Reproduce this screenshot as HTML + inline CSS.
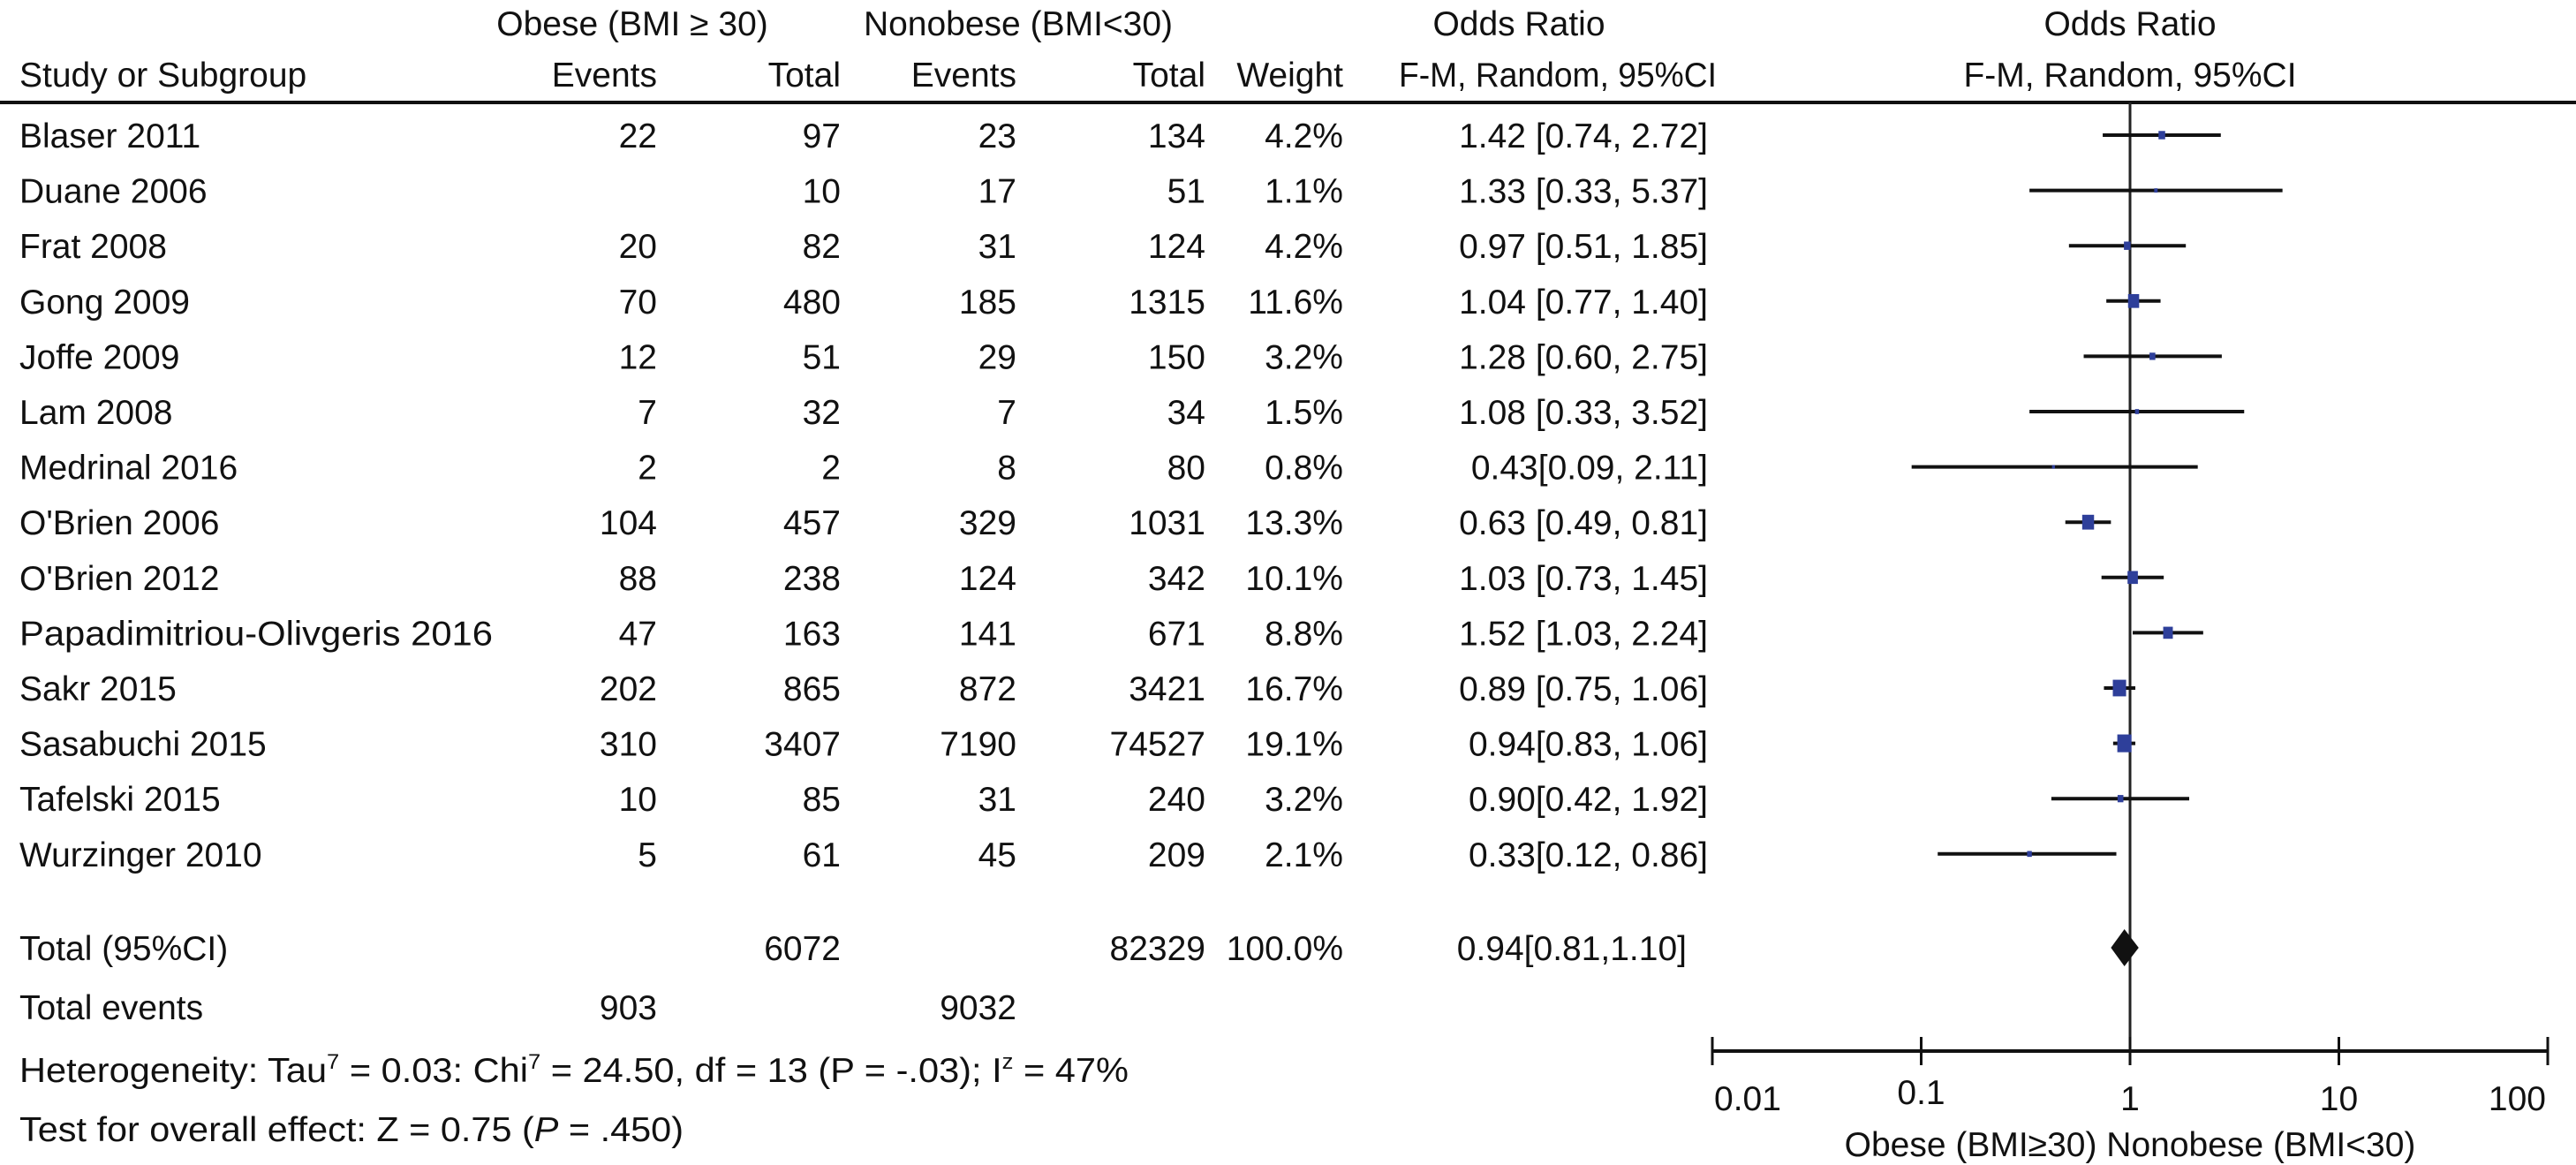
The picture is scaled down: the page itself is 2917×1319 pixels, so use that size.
<!DOCTYPE html>
<html><head><meta charset="utf-8"><style>
html,body{margin:0;padding:0;background:#fff;}
svg{display:block;font-family:"Liberation Sans",sans-serif;}
text{font-size:39px;fill:#111;}
</style></head><body>
<svg id="chart" width="2917" height="1319" viewBox="0 0 2917 1319">
<g>
<text x="716" y="40" text-anchor="middle">Obese (BMI ≥ 30)</text>
<text x="1153" y="40" text-anchor="middle">Nonobese (BMI&lt;30)</text>
<text x="1720" y="40" text-anchor="middle">Odds Ratio</text>
<text x="2412" y="40" text-anchor="middle">Odds Ratio</text>
<text x="22" y="98">Study or Subgroup</text>
<text x="744" y="98" text-anchor="end">Events</text>
<text x="952" y="98" text-anchor="end">Total</text>
<text x="1151" y="98" text-anchor="end">Events</text>
<text x="1365" y="98" text-anchor="end">Total</text>
<text x="1521" y="98" text-anchor="end">Weight</text>
<text x="1944" y="98" text-anchor="end" textLength="360" lengthAdjust="spacingAndGlyphs">F-M, Random, 95%CI</text>
<text x="2412" y="98" text-anchor="middle">F-M, Random, 95%CI</text>
<line x1="0" y1="116" x2="2917" y2="116" stroke="#111" stroke-width="4"/>
</g>
<g id="rows"></g>
<g id="plot"></g>
<g>
<text x="22" y="1087">Total (95%CI)</text>
<text x="952" y="1087" text-anchor="end">6072</text>
<text x="1365" y="1087" text-anchor="end">82329</text>
<text x="1521" y="1087" text-anchor="end">100.0%</text>
<text x="1910" y="1087" text-anchor="end">0.94[0.81,1.10]</text>
<text x="22" y="1154">Total events</text>
<text x="744" y="1154" text-anchor="end">903</text>
<text x="1151" y="1154" text-anchor="end">9032</text>
<text x="22" y="1225" textLength="1256" lengthAdjust="spacingAndGlyphs">Heterogeneity: Tau<tspan dy="-15" font-size="24">7</tspan><tspan dy="15"> = 0.03: Chi</tspan><tspan dy="-15" font-size="24">7</tspan><tspan dy="15"> = 24.50, df = 13 (P = -.03); I</tspan><tspan dy="-15" font-size="24">z</tspan><tspan dy="15"> = 47%</tspan></text>
<text x="22" y="1292" textLength="752" lengthAdjust="spacingAndGlyphs">Test for overall effect: Z = 0.75 (<tspan font-style="italic">P</tspan> = .450)</text>
</g>
</svg>
<script>
const studies=["Blaser 2011","Duane 2006","Frat 2008","Gong 2009","Joffe 2009","Lam 2008","Medrinal 2016","O'Brien 2006","O'Brien 2012","Papadimitriou-Olivgeris 2016","Sakr 2015","Sasabuchi 2015","Tafelski 2015","Wurzinger 2010"];
const obeseEvents=["22","","20","70","12","7","2","104","88","47","202","310","10","5"];
const obeseTotal=["97","10","82","480","51","32","2","457","238","163","865","3407","85","61"];
const nonEvents=["23","17","31","185","29","7","8","329","124","141","872","7190","31","45"];
const nonTotal=["134","51","124","1315","150","34","80","1031","342","671","3421","74527","240","209"];
const weights=[4.2,1.1,4.2,11.6,3.2,1.5,0.8,13.3,10.1,8.8,16.7,19.1,3.2,2.1];
const orVal=[1.42,1.33,0.97,1.04,1.28,1.08,0.43,0.63,1.03,1.52,0.89,0.94,0.90,0.33];
const ciLow=[0.74,0.33,0.51,0.77,0.60,0.33,0.09,0.49,0.73,1.03,0.75,0.83,0.42,0.12];
const ciHigh=[2.72,5.37,1.85,1.40,2.75,3.52,2.11,0.81,1.45,2.24,1.06,1.06,1.92,0.86];
const orLabels=["1.42 [0.74, 2.72]","1.33 [0.33, 5.37]","0.97 [0.51, 1.85]","1.04 [0.77, 1.40]","1.28 [0.60, 2.75]","1.08 [0.33, 3.52]","0.43[0.09, 2.11]","0.63 [0.49, 0.81]","1.03 [0.73, 1.45]","1.52 [1.03, 2.24]","0.89 [0.75, 1.06]","0.94[0.83, 1.06]","0.90[0.42, 1.92]","0.33[0.12, 0.86]"];
const totalOR=[0.94,0.81,1.10];
const ticks=[0.01,0.1,1,10,100];
const tickLabels=["0.01","0.1","1","10","100"];

const NS="http://www.w3.org/2000/svg";
const AXIS_Y=1190;
const xScale=v=>2412+236.5*Math.log10(v);
const yRow=i=>153+62.6*i;
function mk(tag,parent,attrs,txt){const e=document.createElementNS(NS,tag);for(const k in attrs)e.setAttribute(k,attrs[k]);if(txt!==undefined)e.textContent=txt;parent.appendChild(e);return e;}
const rows=document.getElementById('rows'),plot=document.getElementById('plot');
studies.forEach((s,i)=>{
  const y=yRow(i)+14;
  const g=mk('g',rows,{});
  
  
  const cells=[[22,'start',s,'study-name'],[744,'end',obeseEvents[i],'obese-events'],[952,'end',obeseTotal[i],'obese-total'],[1151,'end',nonEvents[i],'nonobese-events'],[1365,'end',nonTotal[i],'nonobese-total'],[1521,'end',weights[i].toFixed(1)+'%','weight'],[1934,'end',orLabels[i],'odds-ratio-ci']];
  cells.forEach(c=>{const t=mk('text',g,{x:c[0],y:y,'text-anchor':c[1]},c[2]);
    if(c[3]==='study-name'&&s.length>20){t.setAttribute('textLength','536');t.setAttribute('lengthAdjust','spacingAndGlyphs');}
    
    });
});
const ref=mk('line',plot,{x1:xScale(1),y1:116,x2:xScale(1),y2:AXIS_Y,stroke:'#222','stroke-width':3});


studies.forEach((s,i)=>{
  const y=yRow(i);
  const ci=mk('line',plot,{x1:xScale(ciLow[i]),x2:xScale(ciHigh[i]),y1:y,y2:y,stroke:'#111','stroke-width':4});
  
  
  const sz=Math.sqrt(weights[i])*4.6;
  const m=mk('rect',plot,{x:xScale(orVal[i])-sz*0.4,y:y-sz/2,width:sz*0.8,height:sz,fill:'#2e3f9a'});
  
  
});
const dy=1073,dx=xScale(totalOR[0]);
const d=mk('polygon',plot,{points:`${xScale(totalOR[1])},${dy} ${dx},${dy-21} ${xScale(totalOR[2])},${dy} ${dx},${dy+21}`,fill:'#111'});


const ax=mk('line',plot,{x1:xScale(ticks[0]),x2:xScale(ticks[ticks.length-1]),y1:AXIS_Y,y2:AXIS_Y,stroke:'#111','stroke-width':4});


ticks.forEach((t,i)=>{
  const x=xScale(t);
  const tk=mk('line',plot,{x1:x,x2:x,y1:AXIS_Y-16,y2:AXIS_Y+16,stroke:'#111','stroke-width':3});
  
  
  const lb=mk('text',plot,{x:i==0?x+2:(i==4?x-2:x),y:i==1?1250:1257,'text-anchor':i==0?'start':(i==4?'end':'middle')},tickLabels[i]);
  
  
});
const at=mk('text',plot,{x:2412,y:1309,'text-anchor':'middle'},'Obese (BMI≥30) Nonobese (BMI<30)');


</script>
</body></html>
